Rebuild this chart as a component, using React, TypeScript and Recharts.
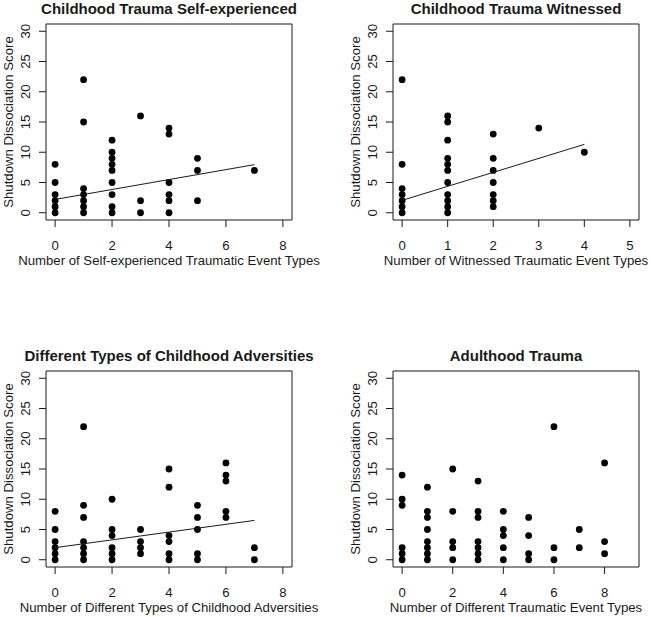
import { ScatterChart, Scatter, XAxis, YAxis, ReferenceArea, Label } from 'recharts'

const INK = '#1a1a1a'
const FONT = '"Liberation Sans", Arial, Helvetica, sans-serif'

// shared y axis (Shutdown Dissociation Score)
const scoreTicks = [0, 5, 10, 15, 20, 25, 30]
const scoreLabel = 'Shutdown Dissociation Score'

// Childhood Trauma Self-experienced
const selfCounts = [0, 1, 2, 3, 4, 5, 7]
const selfScores = [
  [0, 1, 2, 3, 5, 8],
  [0, 1, 2, 3, 4, 15, 22],
  [0, 1, 3, 5, 7, 8, 9, 10, 12],
  [0, 2, 16],
  [0, 2, 3, 5, 13, 14],
  [2, 7, 9],
  [7],
]
const selfFitX = [0, 7]
const selfFitY = [2.2, 7.95]
const selfTicks = [0, 2, 4, 6, 8]

// Childhood Trauma Witnessed
const witCounts = [0, 1, 2, 3, 4]
const witScores = [
  [0, 1, 2, 3, 4, 8, 22],
  [0, 1, 2, 3, 5, 7, 8, 9, 12, 15, 16],
  [1, 2, 3, 5, 7, 9, 13],
  [14],
  [10],
]
const witFitX = [0, 4]
const witFitY = [2.05, 11.3]
const witTicks = [0, 1, 2, 3, 4, 5]

// Different Types of Childhood Adversities
const advCounts = [0, 1, 2, 3, 4, 5, 6, 7]
const advScores = [
  [0, 1, 2, 3, 5, 8],
  [0, 1, 2, 3, 7, 9, 22],
  [0, 1, 2, 4, 5, 10],
  [1, 2, 3, 5],
  [0, 1, 3, 4, 12, 15],
  [0, 1, 5, 7, 9],
  [7, 8, 13, 14, 16],
  [0, 2],
]
const advFitX = [0, 7]
const advFitY = [2.0, 6.5]
const advTicks = [0, 2, 4, 6, 8]

// Adulthood Trauma
const adultCounts = [0, 1, 2, 3, 4, 5, 6, 7, 8]
const adultScores = [
  [0, 1, 2, 9, 10, 14],
  [0, 1, 2, 3, 5, 7, 8, 12],
  [0, 2, 3, 8, 15],
  [0, 1, 2, 3, 7, 8, 13],
  [0, 2, 4, 5, 8],
  [0, 1, 4, 7],
  [0, 2, 22],
  [2, 5],
  [1, 3, 16],
]
const adultTicks = [0, 2, 4, 6, 8]

// R extends the axis range by 4% on each side
const rDomain = (lo: number, hi: number): [number, number] => {
  const pad = (hi - lo) * 0.04
  return [lo - pad, hi + pad]
}

const toPoints = (counts: number[], scores: number[][]) =>
  counts.flatMap((x, i) => scores[i].map((y) => ({ x, y })))

const toLine = (xs: number[], ys: number[]) => xs.map((x, i) => ({ x, y: ys[i] }))

type Panel = {
  title: string
  xLabel: string
  xTicks: number[]
  xMax: number
  points: { x: number; y: number }[]
  fit?: { x: number; y: number }[]
}

const panels: Panel[] = [
  {
    title: 'Childhood Trauma Self-experienced',
    xLabel: 'Number of Self-experienced Traumatic Event Types',
    xTicks: selfTicks,
    xMax: 8,
    points: toPoints(selfCounts, selfScores),
    fit: toLine(selfFitX, selfFitY),
  },
  {
    title: 'Childhood Trauma Witnessed',
    xLabel: 'Number of Witnessed Traumatic Event Types',
    xTicks: witTicks,
    xMax: 5,
    points: toPoints(witCounts, witScores),
    fit: toLine(witFitX, witFitY),
  },
  {
    title: 'Different Types of Childhood Adversities',
    xLabel: 'Number of Different Types of Childhood Adversities',
    xTicks: advTicks,
    xMax: 8,
    points: toPoints(advCounts, advScores),
    fit: toLine(advFitX, advFitY),
  },
  {
    title: 'Adulthood Trauma',
    xLabel: 'Number of Different Traumatic Event Types',
    xTicks: adultTicks,
    xMax: 9,
    points: toPoints(adultCounts, adultScores),
  },
]

const CELL = 347

function RotatedTick({ x, y, payload }: any) {
  return (
    <text
      x={x}
      y={y}
      transform={`rotate(-90, ${x}, ${y})`}
      textAnchor="middle"
      fontSize={13.2}
      fill={INK}
      fontFamily={FONT}
    >
      {payload.value}
    </text>
  )
}

const Dot = (p: any) => <circle cx={p.cx} cy={p.cy} r={3.4} fill="#000" />
const NoDot = () => <g />

function PanelChart({ panel }: { panel: Panel }) {
  const xDomain = rDomain(0, panel.xMax)
  const yDomain = rDomain(0, 30)
  return (
    <ScatterChart
      width={CELL}
      height={CELL}
      margin={{ top: 24, right: 55, bottom: 77, left: 6 }}
      style={{ fontFamily: FONT }}
    >
      <XAxis
        type="number"
        dataKey="x"
        domain={xDomain}
        ticks={panel.xTicks}
        allowDataOverflow
        height={50}
        axisLine={false}
        tickSize={7}
        tickMargin={14}
        tickLine={{ stroke: INK }}
        tick={{ fontSize: 13.2, fill: INK, fontFamily: FONT }}
        interval={0}
      >
        <Label
          value={panel.xLabel}
          position="insideTop"
          offset={36}
          fontSize={13.2}
          fill={INK}
          fontFamily={FONT}
        />
      </XAxis>
      <YAxis
        type="number"
        dataKey="y"
        domain={yDomain}
        ticks={scoreTicks}
        allowDataOverflow
        width={40}
        axisLine={false}
        tickSize={7}
        tickMargin={9}
        tickLine={{ stroke: INK }}
        tick={<RotatedTick />}
        interval={0}
      >
        <Label
          value={scoreLabel}
          angle={-90}
          position="insideLeft"
          offset={2}
          fontSize={13.2}
          fill={INK}
          fontFamily={FONT}
          style={{ textAnchor: 'middle' }}
        />
      </YAxis>
      <ReferenceArea
        x1={xDomain[0]}
        x2={xDomain[1]}
        y1={yDomain[0]}
        y2={yDomain[1]}
        fill="none"
        fillOpacity={0}
        stroke={INK}
        strokeWidth={1}
        ifOverflow="visible"
      >
        <Label
          value={panel.title}
          position="top"
          offset={10}
          fontSize={15}
          fontWeight={700}
          fill={INK}
          fontFamily={FONT}
        />
      </ReferenceArea>
      <Scatter data={panel.points} shape={Dot} isAnimationActive={false} />
      {panel.fit && (
        <Scatter
          data={panel.fit}
          shape={NoDot}
          line={{ stroke: INK, strokeWidth: 1 }}
          isAnimationActive={false}
        />
      )}
    </ScatterChart>
  )
}

export default function App() {
  return (
    <div
      style={{
        position: 'absolute',
        left: 0,
        top: 0,
        width: 651,
        height: 617,
        overflow: 'hidden',
        background: '#fff',
      }}
    >
      {panels.map((panel, i) => (
        <div
          key={panel.title}
          style={{ position: 'absolute', left: (i % 2) * CELL, top: Math.floor(i / 2) * CELL }}
        >
          <PanelChart panel={panel} />
        </div>
      ))}
    </div>
  )
}
